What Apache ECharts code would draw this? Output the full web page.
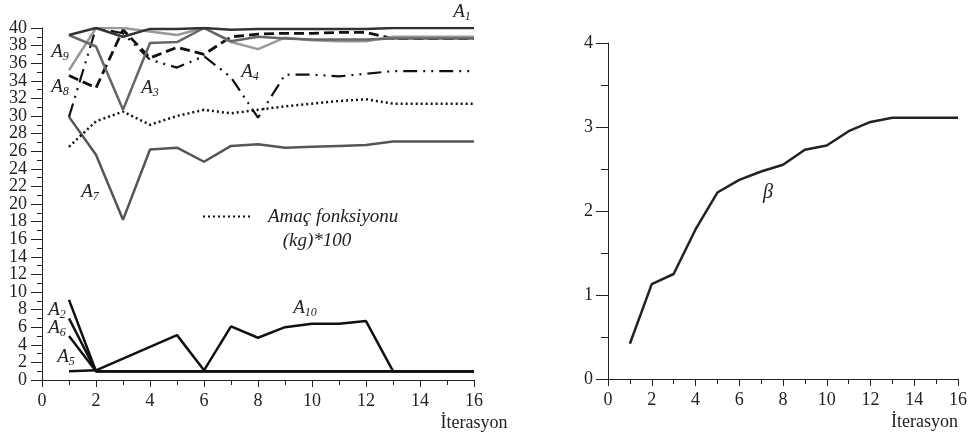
<!DOCTYPE html>
<html>
<head>
<meta charset="utf-8">
<script src="https://cdn.jsdelivr.net/npm/echarts@6/dist/echarts.min.js"></script>
<style>
  html, body { margin: 0; padding: 0; background: #fff; }
  #main { width: 970px; height: 439px; }
</style>
</head>
<body>
<div id="main"></div>
<script>
// iterasyon
var iter = [1, 2, 3, 4, 5, 6, 7, 8, 9, 10, 11, 12, 13, 14, 15, 16];

// sol grafik - değişkenler
var a1 = [39.2, 40, 39, 39.9, 39.9, 40, 39.8, 39.9, 39.9, 39.9, 39.9, 39.9, 40, 40, 40, 40];
var a3 = [39.2, 37.9, 30.7, 38.3, 38.4, 40, 38.5, 39.0, 38.8, 38.7, 38.7, 38.7, 38.8, 38.8, 38.8, 38.8];
var a9 = [35.2, 40, 40, 39.6, 39.2, 40, 38.4, 37.6, 38.9, 38.6, 38.5, 38.5, 39.0, 39.0, 39.0, 39.0];
var a8 = [34.6, 33.2, 39.8, 36.6, 37.8, 37.0, 39.0, 39.3, 39.4, 39.4, 39.5, 39.5, 38.8, 38.8, 38.8, 38.8];
var a4 = [29.9, 40, 39.4, 36.4, 35.5, 36.8, 34.4, 29.8, 34.7, 34.7, 34.5, 34.8, 35.1, 35.1, 35.1, 35.1];
var amac = [26.5, 29.4, 30.5, 29.0, 30.0, 30.7, 30.3, 30.7, 31.1, 31.4, 31.7, 31.9, 31.4, 31.4, 31.4, 31.4];
var a7 = [29.9, 25.6, 18.2, 26.2, 26.4, 24.8, 26.6, 26.8, 26.4, 26.5, 26.6, 26.7, 27.1, 27.1, 27.1, 27.1];
var a2 = [9.1, 1, 1, 1, 1, 1, 1, 1, 1, 1, 1, 1, 1, 1, 1, 1];
var a6 = [7.0, 1, 1, 1, 1, 1, 1, 1, 1, 1, 1, 1, 1, 1, 1, 1];
var a5 = [5.0, 1, 1, 1, 1, 1, 1, 1, 1, 1, 1, 1, 1, 1, 1, 1];
var a10 = [1, 1.1, null, null, 5.1, 1.1, 6.1, 4.8, 6.0, 6.4, 6.4, 6.7, 1, 1, 1, 1];

// sağ grafik - beta
var beta = [0.42, 1.13, 1.25, 1.78, 2.22, 2.37, 2.47, 2.55, 2.73, 2.78, 2.95, 3.06, 3.11, 3.11, 3.11, 3.11];

var FONT = 'Liberation Serif';

function pairs(vals) {
    var out = [];
    iter.forEach(function (x, i) {
        out.push([x, vals[i]]);
    });
    return out;
}

function line(name, vals, color, width, type, grid) {
    return {
        name: name,
        type: 'line',
        xAxisIndex: grid,
        yAxisIndex: grid,
        data: pairs(vals),
        symbol: 'none',
        connectNulls: true,
        itemStyle: { color: color },
        lineStyle: { color: color, width: width, type: type },
        z: 2
    };
}

// A_n etiketleri
function lab(x, y, sub) {
    return {
        type: 'text',
        x: x,
        y: y,
        style: {
            text: '{a|A}{s|' + sub + '}',
            align: 'center',
            verticalAlign: 'middle',
            rich: {
                a: { fontFamily: FONT, fontStyle: 'italic', fontSize: 19, fill: '#222' },
                s: { fontFamily: FONT, fontStyle: 'italic', fontSize: 12, fill: '#222', padding: [10, 0, 0, 0] }
            }
        }
    };
}

function xAx(grid, nameAlign) {
    return {
        type: 'value',
        gridIndex: grid,
        min: 0,
        max: 16,
        interval: 2,
        name: 'İterasyon',
        nameLocation: 'end',
        nameGap: 0,
        nameTextStyle: {
            fontFamily: FONT, fontSize: 18, color: '#222',
            align: nameAlign, verticalAlign: 'top', padding: [34, 0, 0, 0]
        },
        axisLine: { lineStyle: { color: '#222', width: 1 } },
        axisTick: { length: 7, lineStyle: { color: '#222' } },
        minorTick: { show: true, splitNumber: 2, length: 5, lineStyle: { color: '#222' } },
        axisLabel: {
            fontFamily: FONT, fontSize: 18, color: '#222', margin: 12,
            showMinLabel: true, showMaxLabel: true, hideOverlap: false
        },
        splitLine: { show: false }
    };
}

var chart = echarts.init(document.getElementById('main'));

var option = {
    animation: false,
    backgroundColor: '#fff',
    textStyle: { fontFamily: FONT },
    grid: [
        { left: 42, top: 28, width: 432, height: 352 },
        { left: 608, top: 43, width: 350, height: 336 }
    ],
    legend: {
        data: ['Amaç fonksiyonu'],
        left: 197,
        top: 202,
        itemWidth: 48,
        itemHeight: 14,
        itemStyle: { color: 'transparent', borderColor: 'transparent', borderWidth: 0 },
        textStyle: {
            fontFamily: FONT, fontStyle: 'italic', fontSize: 19, color: '#222',
            padding: [0, 0, 0, 12]
        }
    },
    xAxis: [xAx(0, 'center'), xAx(1, 'right')],
    yAxis: [
        {
            // 2..38 etiketleri
            type: 'value',
            gridIndex: 0,
            min: 0,
            max: 40,
            interval: 2,
            axisLine: { show: true, lineStyle: { color: '#222', width: 1 } },
            axisTick: { show: true, length: 11, lineStyle: { color: '#222' } },
            minorTick: { show: true, splitNumber: 2, length: 5, lineStyle: { color: '#222' } },
            axisLabel: {
                fontFamily: FONT, fontSize: 18, color: '#222', margin: 15,
                showMinLabel: false, showMaxLabel: false
            },
            splitLine: { show: false }
        },
        {
            type: 'value',
            gridIndex: 1,
            min: 0,
            max: 4,
            interval: 1,
            axisLine: { show: true, lineStyle: { color: '#222', width: 1 } },
            axisTick: { show: true, length: 12, lineStyle: { color: '#222' } },
            minorTick: { show: true, splitNumber: 2, length: 7, lineStyle: { color: '#222' } },
            axisLabel: {
                fontFamily: FONT, fontSize: 18, color: '#222', margin: 15,
                showMinLabel: true, showMaxLabel: true
            },
            splitLine: { show: false }
        },
        {
            // 0 ve 40 etiketleri
            type: 'value',
            gridIndex: 0,
            position: 'left',
            offset: 0,
            min: 0,
            max: 40,
            interval: 40,
            axisLine: { show: false },
            axisTick: { show: true, length: 11, lineStyle: { color: '#222' } },
            axisLabel: {
                fontFamily: FONT, fontSize: 18, color: '#222', margin: 15,
                showMinLabel: true, showMaxLabel: true
            },
            splitLine: { show: false }
        }
    ],
    series: [
        line('A7', a7, '#555', 2.5, 'solid', 0),
        line('Amaç fonksiyonu', amac, '#111', 2.5, [2, 3], 0),
        line('A4', a4, '#111', 2.2, [14, 6, 2, 6, 2, 6], 0),
        line('A8', a8, '#111', 2.8, [10, 5], 0),
        line('A9', a9, '#999', 2.5, 'solid', 0),
        line('A3', a3, '#666', 2.5, 'solid', 0),
        line('A1', a1, '#333', 2.5, 'solid', 0),
        line('A2', a2, '#111', 2.5, 'solid', 0),
        line('A6', a6, '#111', 2.5, 'solid', 0),
        line('A5', a5, '#111', 2.5, 'solid', 0),
        line('A10', a10, '#111', 2.5, 'solid', 0),
        line('β', beta, '#222', 2.5, 'solid', 1)
    ],
    graphic: [
        lab(462, 12, '1'),
        lab(60, 52, '9'),
        lab(60, 87, '8'),
        lab(150, 88, '3'),
        lab(250, 72, '4'),
        lab(90, 192, '7'),
        lab(57, 310, '2'),
        lab(57, 328, '6'),
        lab(66, 357, '5'),
        lab(305, 308, '10'),
        {
            type: 'text',
            x: 317,
            y: 241,
            style: {
                text: '(kg)*100',
                align: 'center',
                verticalAlign: 'middle',
                fontFamily: FONT, fontStyle: 'italic', fontSize: 19, fill: '#222'
            }
        },
        {
            type: 'text',
            x: 768,
            y: 193,
            style: {
                text: 'β',
                align: 'center',
                verticalAlign: 'middle',
                fontFamily: FONT, fontStyle: 'italic', fontSize: 20, fill: '#222'
            }
        }
    ]
};

chart.setOption(option);
</script>
</body>
</html>
